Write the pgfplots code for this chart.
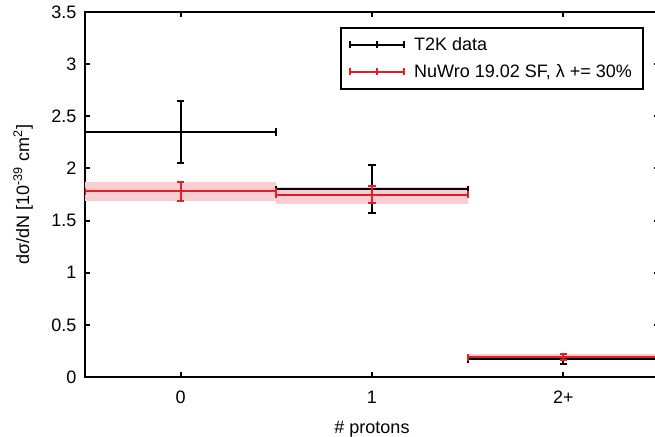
\documentclass[border=0pt]{standalone}
\usepackage{fontspec}
\setmainfont{Liberation Sans}
\usepackage{pgfplots}
\pgfplotsset{compat=1.18}
\definecolor{nured}{RGB}{228,30,38}
\definecolor{nuband}{RGB}{248,206,210}
\newcommand{\fs}{\fontsize{13.5}{16}\selectfont}
\pgfplotsset{
  errleg/.style={legend image code/.code={
    \draw[##1, line width=1.5pt] (0pt,0pt) -- (40pt,0pt);
    \draw[##1, line width=1.5pt] (0pt,-2.7pt) -- (0pt,2.7pt) (40pt,-2.7pt) -- (40pt,2.7pt) (20pt,-2.7pt) -- (20pt,2.7pt);
  }},
}
\begin{document}
\begin{tikzpicture}
\begin{axis}[
  name=ax,
  scale only axis,
  width=430.5pt, height=273.75pt,
  xmin=-0.5, xmax=2.5, ymin=0, ymax=3.5,
  xtick={0,1,2}, xticklabels={0,1,2+},
  ytick={0,0.5,1,1.5,2,2.5,3,3.5},
  tick align=inside,
  major tick length=4pt,
  tick style={black, line width=1.5pt},
  axis line style={line width=1.5pt},
  /pgf/number format/assume math mode=true,
  tick label style={font=\fs},
  label style={font=\fs},
  yticklabel style={xshift=-3pt},
  xticklabel style={yshift=-7pt},
  xlabel={\# protons},
  ylabel={dσ/dN [10\textsuperscript{-39} cm\textsuperscript{2}]},
  ylabel style={at={(axis description cs:-0.108,0.5)}, anchor=center},
  xlabel style={at={(axis description cs:0.5,-0.144)}, anchor=center},
  legend style={at={(0.445,0.959)}, anchor=north west, draw=black, line width=1.5pt,
    font=\fs, inner xsep=6pt, inner ysep=5pt, row sep=5pt,
    cells={anchor=west},
    /tikz/every odd column/.append style={column sep=5pt}},
  legend cell align=left,
]
% NuWro uncertainty bands
\addplot[fill=nuband, draw=none, forget plot] coordinates {(-0.5,1.69) (0.5,1.69) (0.5,1.87) (-0.5,1.87)};
\addplot[fill=nuband, draw=none, forget plot] coordinates {(0.5,1.66) (1.5,1.66) (1.5,1.82) (0.5,1.82)};
\addplot[fill=nuband, draw=none, forget plot] coordinates {(1.5,0.16) (2.5,0.16) (2.5,0.22) (1.5,0.22)};
% T2K data
\addplot[draw=none, mark=none, forget plot,
  error bars/.cd, x dir=both, y dir=both, x explicit, y explicit,
  error bar style={line width=1.5pt, black},
  error mark options={rotate=90, mark size=2.7pt, line width=1.5pt, black}]
  coordinates {
    (0,2.35) +- (0.5,0.30)
    (1,1.80) +- (0.5,0.23)
    (2,0.17) +- (0.5,0.05)
  };
% NuWro
\addplot[draw=none, mark=none, forget plot,
  error bars/.cd, x dir=both, y dir=both, x explicit, y explicit,
  error bar style={line width=1.5pt, nured},
  error mark options={rotate=90, mark size=2.7pt, line width=1.5pt, nured}]
  coordinates {
    (0,1.78) +- (0.5,0.09)
    (1,1.75) +- (0.5,0.08)
    (2,0.19) +- (0.5,0.03)
  };
\addlegendimage{black, errleg}
\addlegendentry{T2K data}
\addlegendimage{nured, errleg}
\addlegendentry{NuWro 19.02 SF, λ += 30\%}
\end{axis}
\pgfresetboundingbox
\path (ax.south west) ++(-63.75pt,-44.25pt) rectangle ++(491.25pt,327pt);
\end{tikzpicture}
\end{document}
